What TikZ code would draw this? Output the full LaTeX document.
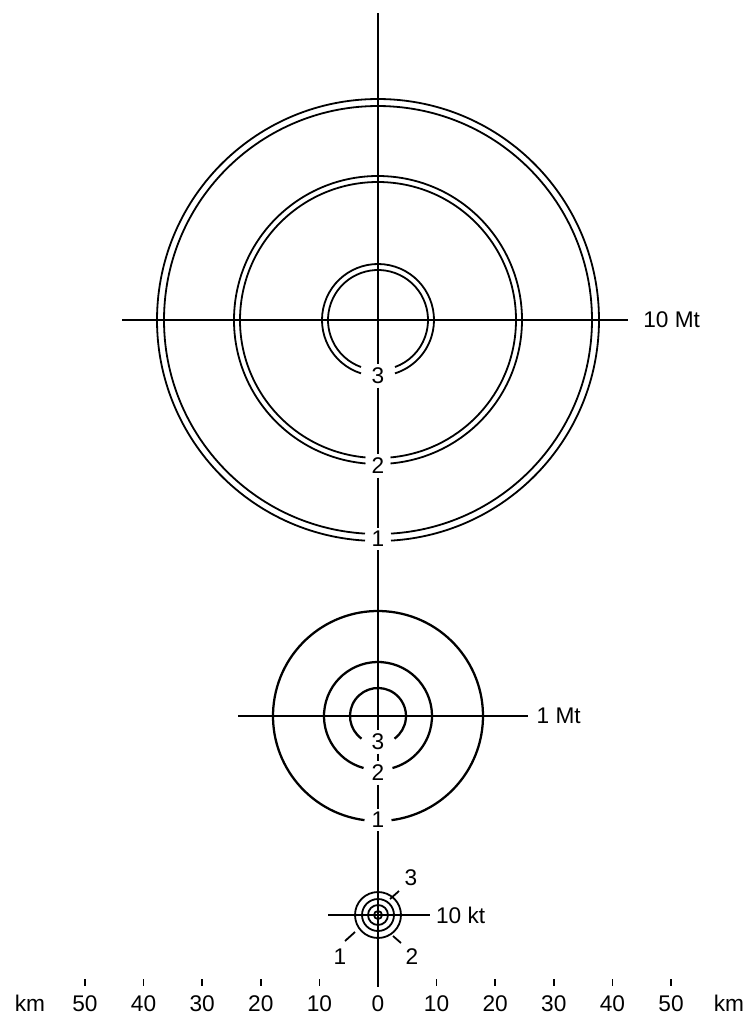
\documentclass[tikz,border=0pt]{standalone}
\usepackage{fontspec}
\setmainfont{Liberation Sans}
\usetikzlibrary{positioning}

\begin{document}
\begin{tikzpicture}[
  x=0.75pt, y=-0.75pt,
  every node/.style={font=\fontsize{17}{19}\selectfont},
  axis/.style={line width=1.4pt},
  ring/.style={line width=1.35pt},
  thickring/.style={line width=1.7pt},
  onaxis/.style={inner sep=2.5pt},
  scalelabel/.style={inner sep=1pt, anchor=base},
  tick/.style={line width=1.3pt}
]
\useasboundingbox (0,0) rectangle (750,1015);

% Centres of the three targets
\coordinate (big) at (378,320);
\coordinate (mid) at (378,716);
\coordinate (small) at (378,915);

% Ends of the lines
\coordinate (top) at (378,13);
\coordinate (bottom) at (378,987);
\coordinate (bigL) at (122,320);
\coordinate (bigR) at (628,320);
\coordinate (midL) at (238,716);
\coordinate (midR) at (528,716);
\coordinate (smallL) at (328,915);
\coordinate (smallR) at (430,915);

% Numbers on the vertical line
\node[onaxis] (big3) at (378,376) {3};
\node[onaxis] (big2) at (378,466) {2};
\node[onaxis] (big1) at (378,539) {1};
\node[onaxis] (mid3) at (378,742) {3};
\node[onaxis] (mid2) at (378,773) {2};
\node[onaxis] (mid1) at (378,820) {1};

% Names on the right
\node[right=8pt of bigR] (bigname) {10 Mt};
\node[right=3pt of midR] (midname) {1 Mt};
\node[right=1pt of smallR] (smallname) {10 kt};

% Vertical line
\draw[axis] (top) -- (big3);
\draw[axis] (big3) -- (big2);
\draw[axis] (big2) -- (big1);
\draw[axis] (big1) -- (mid3);
\draw[axis] (mid3) -- (mid2);
\draw[axis] (mid2) -- (mid1);
\draw[axis] (mid1) -- (bottom);

% Horizontal lines
\draw[axis] (bigL) -- (bigR);
\draw[axis] (midL) -- (midR);
\draw[axis] (smallL) -- (smallR);

% 10 Mt rings, double lines, open at the bottom
\foreach \r/\g in {221/13, 214/13, 144/12.5, 138/12.5, 56/17, 50/17}
  \draw[ring] (big) ++({90+asin(\g/\r)}:\r)
    arc[start angle={90+asin(\g/\r)}, end angle={450-asin(\g/\r)}, radius=\r];

% 1 Mt rings
\foreach \r/\g in {105/13.5, 54/14.5, 28/16.5}
  \draw[thickring] (mid) ++({90+asin(\g/\r)}:\r)
    arc[start angle={90+asin(\g/\r)}, end angle={450-asin(\g/\r)}, radius=\r];

% 10 kt rings
\foreach \r in {23, 16, 10, 4}
  \draw[ring] (small) circle[radius=\r];

% 10 kt numbers and their leaders
\node (small3) at (411,878) {3};
\node (small1) at (340,957) {1};
\node (small2) at (412,957) {2};
\coordinate (lead3a) at (390,899);
\coordinate (lead3b) at (399,891);
\coordinate (lead1a) at (355,932);
\coordinate (lead1b) at (345,941);
\coordinate (lead2a) at (393,936);
\coordinate (lead2b) at (401,943);
\draw[ring] (lead3a) -- (lead3b);
\draw[ring] (lead1a) -- (lead1b);
\draw[ring] (lead2a) -- (lead2b);

% Scale
\node[scalelabel] (kmL) at (30,1011) {km};
\node[scalelabel] (kmR) at (729,1011) {km};
\node[scalelabel] (s0) at (378,1011) {0};
\foreach \n in {1,...,5} {
  \node[scalelabel] (sl\n) at ({378-58.6*\n},1011) {\n0};
  \node[scalelabel] (sr\n) at ({378+58.6*\n},1011) {\n0};
  \draw[tick] ({378-58.6*\n},979) -- ++(0,7);
  \draw[tick] ({378+58.6*\n},979) -- ++(0,7);
}
\end{tikzpicture}
\end{document}
